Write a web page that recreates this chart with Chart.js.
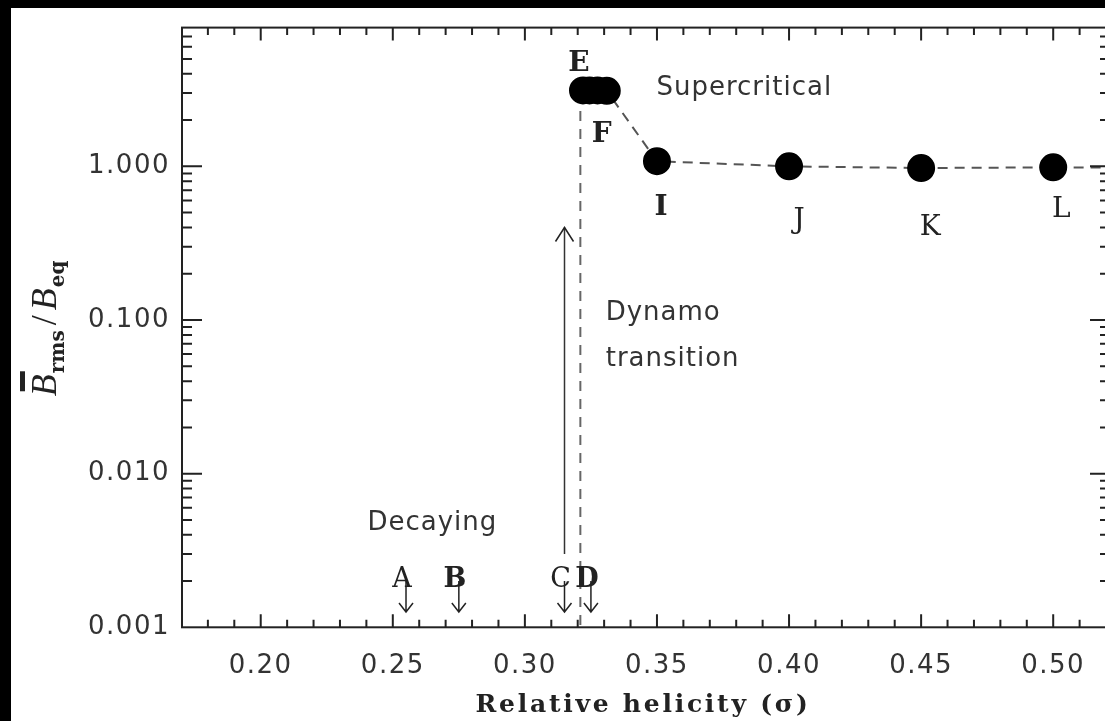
<!DOCTYPE html>
<html><head><meta charset="utf-8">
<style>
html,body{margin:0;padding:0;background:#000;overflow:hidden;width:1105px;height:721px;}
#wrap{position:absolute;left:0;top:0;width:1125px;height:721px;}
canvas{display:block}
</style>
<script src="https://cdn.jsdelivr.net/npm/chart.js@4/dist/chart.umd.min.js"></script>
</head><body><div id="wrap"><canvas id="c" width="1125" height="721"></canvas></div>
<script>
// ---------- data ----------
const xTickValues = [0.20, 0.25, 0.30, 0.35, 0.40, 0.45, 0.50];
const xTickLabels = ['0.20', '0.25', '0.30', '0.35', '0.40', '0.45', '0.50'];
const yTickValues = [0.001, 0.01, 0.1, 1];
const yTickLabels = ['0.001', '0.010', '0.100', '1.000'];

// supercritical runs (E..L, plus the run continuing beyond the frame)
const superNames = ['E', 'F', 'G', 'H', 'I', 'J', 'K', 'L', ''];
const superSigma = [0.322, 0.3245, 0.3275, 0.331, 0.350, 0.400, 0.450, 0.500, 0.550];
const superB     = [3.12, 3.12, 3.12, 3.10, 1.08, 1.00, 0.975, 0.985, 0.98];

// decaying runs (upper limits, shown as down arrows)
const decayNames = ['A', 'B', 'C', 'D'];
const decaySigma = [0.255, 0.275, 0.315, 0.325];
const decayUpper = [0.002, 0.002, 0.002, 0.002];

// dynamo transition line
const transitionSigma = [0.321, 0.321];
const transitionB     = [3.0, 0.001];

// growth arrow
const growthSigma = [0.315, 0.315];
const growthB     = [0.003, 0.4];

// text annotations
const noteTexts = ['Supercritical', 'Dynamo', 'transition', 'Decaying'];
const noteSigma = [0.3498, 0.3306, 0.3306, 0.2404];
const noteB     = [2.93, 0.1005, 0.050, 0.0043];

// ---------- styles ----------
const sansFont = '"DejaVu Sans", sans-serif';
const serifFont = '"DejaVu Serif", serif';
const inkColor = '#222';
const textColor = '#333';
const pointLabelStyle = {
  E: {dx: -4, dy: -19, bold: true},
  F: {dx: 12, dy: 52, bold: true},
  G: null, H: null,
  I: {dx: 4, dy: 54, bold: true},
  J: {dx: 10, dy: 62, bold: false},
  K: {dx: 9, dy: 67, bold: false},
  L: {dx: 8, dy: 50, bold: false}
};
const decayLabelBold = {A: false, B: true, C: false, D: true};

const data = (xs, ys) => xs.map((x, i) => ({x: x, y: ys[i]}));

const framePlugin = {
  id: 'frame',
  beforeDraw(chart) {
    const ctx = chart.ctx;
    ctx.save();
    ctx.fillStyle = '#000';
    ctx.fillRect(0, 0, chart.width, chart.height);
    ctx.fillStyle = '#fff';
    ctx.fillRect(11, 8, chart.width - 11, chart.height - 8);
    ctx.restore();
    ctx.letterSpacing = '1.5px';
  },
  afterDatasetsDraw(chart) {
    const ctx = chart.ctx;
    const xs = chart.scales.x, ys = chart.scales.y;
    ctx.save();
    ctx.letterSpacing = '0px';
    // growth arrow head
    {
      const px = xs.getPixelForValue(growthSigma[1]);
      const py = ys.getPixelForValue(growthB[1]);
      ctx.strokeStyle = inkColor; ctx.lineWidth = 1.5;
      ctx.beginPath();
      ctx.moveTo(px - 9, py + 14); ctx.lineTo(px, py); ctx.lineTo(px + 9, py + 14);
      ctx.stroke();
    }
    // decaying arrows + letters
    decaySigma.forEach((s, i) => {
      const px = xs.getPixelForValue(s);
      const py = ys.getPixelForValue(decayUpper[i]);
      ctx.strokeStyle = inkColor; ctx.lineWidth = 1.5;
      ctx.beginPath();
      ctx.moveTo(px, py); ctx.lineTo(px, py + 31);
      ctx.moveTo(px - 7, py + 22); ctx.lineTo(px, py + 31); ctx.lineTo(px + 7, py + 22);
      ctx.stroke();
      ctx.fillStyle = inkColor;
      ctx.font = (decayLabelBold[decayNames[i]] ? 'bold ' : '') + '27px ' + serifFont;
      ctx.textAlign = 'center'; ctx.textBaseline = 'alphabetic';
      ctx.fillText(decayNames[i], px - 4, py + 6);
    });
    // point labels
    superNames.forEach((n, i) => {
      const st = pointLabelStyle[n];
      if (!st) return;
      const px = xs.getPixelForValue(superSigma[i]);
      const py = ys.getPixelForValue(superB[i]);
      ctx.fillStyle = inkColor;
      ctx.font = (st.bold ? 'bold ' : '') + '28px ' + serifFont;
      ctx.textAlign = 'center'; ctx.textBaseline = 'alphabetic';
      ctx.fillText(n, px + st.dx, py + st.dy);
    });
    // annotations
    ctx.letterSpacing = '1px';
    noteTexts.forEach((t, i) => {
      ctx.fillStyle = textColor;
      ctx.font = '26px ' + sansFont;
      ctx.textAlign = 'left'; ctx.textBaseline = 'alphabetic';
      ctx.fillText(t, xs.getPixelForValue(noteSigma[i]), ys.getPixelForValue(noteB[i]));
    });
    ctx.restore();
  },
  afterDraw(chart) {
    const ctx = chart.ctx;
    const {left, right, top, bottom} = chart.chartArea;
    const xs = chart.scales.x, ys = chart.scales.y;
    ctx.save();
    ctx.letterSpacing = '0px';
    ctx.strokeStyle = inkColor;
    ctx.lineWidth = 2;
    ctx.strokeRect(left, top, right - left, bottom - top);
    ctx.beginPath();
    // x ticks (every 0.01, major every 0.05)
    for (let k = 17; k <= 53; k++) {
      const px = xs.getPixelForValue(k / 100);
      if (px < left + 2 || px > right - 2) continue;
      const len = (k % 5 === 0) ? 13 : 7.5;
      ctx.moveTo(px, bottom); ctx.lineTo(px, bottom - len);
      ctx.moveTo(px, top); ctx.lineTo(px, top + len);
    }
    // y ticks (log decades, minor 2..9)
    for (let e = -3; e <= 0; e++) {
      for (let m = 1; m <= 9; m++) {
        const v = m * Math.pow(10, e);
        const py = ys.getPixelForValue(v);
        if (py < top + 2 || py > bottom - 2) continue;
        const len = (m === 1) ? 20 : 10;
        ctx.moveTo(left, py); ctx.lineTo(left + len, py);
        ctx.moveTo(right, py); ctx.lineTo(right - len, py);
      }
    }
    ctx.stroke();

    // x title, spread to the width of the original typewriter setting
    const xTitle = 'Relative helicity (\u03c3)';
    ctx.fillStyle = inkColor;
    ctx.font = 'bold 25px ' + serifFont;
    const natural = ctx.measureText(xTitle).width;
    const spacing = Math.max(0, (335 - natural) / xTitle.length);
    ctx.letterSpacing = spacing.toFixed(2) + 'px';
    ctx.textAlign = 'left'; ctx.textBaseline = 'alphabetic';
    ctx.fillText(xTitle, (left + right) / 2 - 335 / 2 - 3, 712);
    ctx.letterSpacing = '0px';

    // y title: B̄_rms / B_eq
    ctx.translate(56, (top + bottom) / 2 + 1);
    ctx.rotate(-Math.PI / 2);
    const big = 'italic 36px "Liberation Serif", serif';
    const slashF = '36px "Liberation Serif", serif';
    const sub = 'bold 20px ' + serifFont;
    const parts = [
      {t: 'B', f: big, dy: 0, bar: true, gap: 1},
      {t: 'rms', f: sub, dy: 8, gap: 5},
      {t: '/', f: slashF, dy: 0, gap: 5},
      {t: 'B', f: big, dy: 0, gap: 1},
      {t: 'eq', f: sub, dy: 8, gap: 0}
    ];
    let total = 0;
    parts.forEach(p => { ctx.font = p.f; p.w = ctx.measureText(p.t).width; total += p.w + p.gap; });
    let x = -total / 2;
    ctx.textAlign = 'left';
    parts.forEach(p => {
      ctx.font = p.f;
      ctx.fillText(p.t, x, p.dy);
      if (p.bar) ctx.fillRect(x + 5, -36, p.w - 2, 5);
      x += p.w + p.gap;
    });
    ctx.restore();
  }
};

new Chart(document.getElementById('c'), {
  type: 'scatter',
  data: {
    datasets: [
      {
        label: 'Supercritical',
        data: data(superSigma, superB),
        showLine: true,
        borderColor: '#555',
        borderWidth: 2,
        borderDash: [10, 7],
        pointRadius: 13,
        pointHoverRadius: 13,
        pointBackgroundColor: '#000',
        pointBorderColor: '#000',
        pointBorderWidth: 2
      },
      {
        label: 'Dynamo transition',
        data: data(transitionSigma, transitionB),
        showLine: true,
        borderColor: '#666',
        borderWidth: 2,
        borderDash: [10, 8],
        pointRadius: 0
      },
      {
        label: 'Growth',
        data: data(growthSigma, growthB),
        showLine: true,
        borderColor: '#333',
        borderWidth: 1.5,
        pointRadius: 0
      },
      {
        label: 'Decaying',
        data: data(decaySigma, decayUpper),
        showLine: false,
        pointRadius: 0
      }
    ]
  },
  options: {
    responsive: false,
    animation: false,
    devicePixelRatio: 1,
    layout: {padding: {left: 0, top: 23.3, right: 12, bottom: 0}},
    plugins: {legend: {display: false}, tooltip: {enabled: false}},
    scales: {
      x: {
        type: 'linear',
        min: 0.1702,
        max: 0.5215,
        afterBuildTicks: s => { s.ticks = xTickValues.map(v => ({value: v})); },
        afterFit: s => { s.height = 721 - 627.3; },
        grid: {display: false, drawTicks: false},
        border: {display: false},
        ticks: {
          autoSkip: false, maxRotation: 0, padding: 23,
          color: textColor,
          font: {family: sansFont, size: 26},
          callback: (v, i) => xTickLabels[i]
        }
      },
      y: {
        type: 'logarithmic',
        min: 0.001,
        max: 8,
        afterBuildTicks: s => { s.ticks = yTickValues.map(v => ({value: v})); },
        afterFit: s => { s.width = 182; },
        grid: {display: false, drawTicks: false},
        border: {display: false},
        ticks: {
          autoSkip: false, padding: 12,
          color: textColor,
          font: {family: sansFont, size: 26},
          callback: (v, i) => yTickLabels[i]
        }
      }
    }
  },
  plugins: [framePlugin]
});
</script>
</body></html>
